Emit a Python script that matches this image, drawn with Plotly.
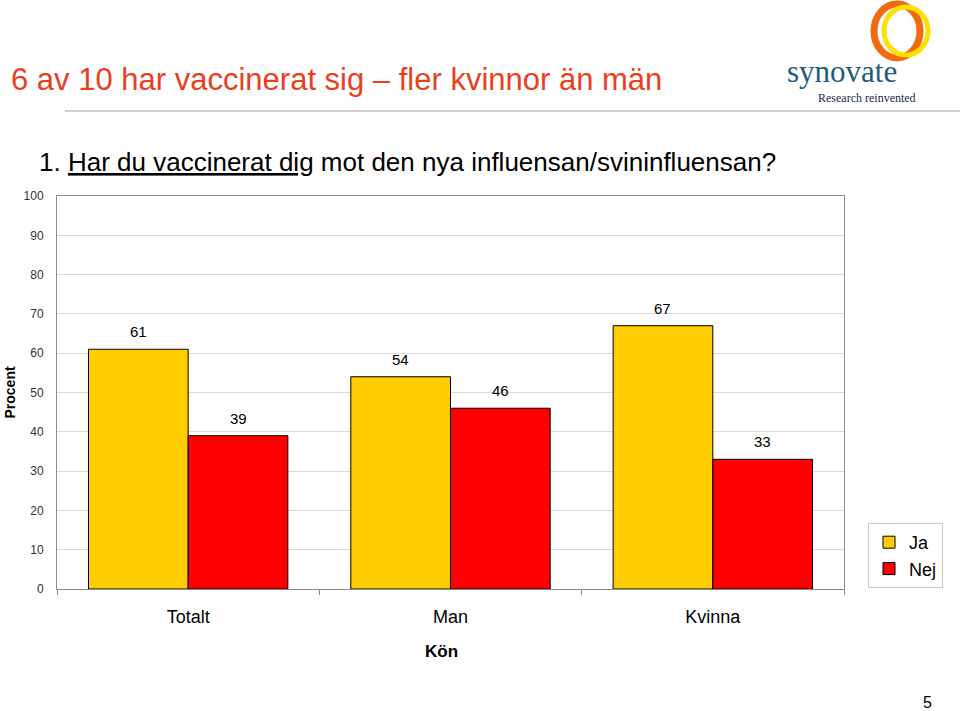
import plotly.graph_objects as go

# Data
categories = ["Totalt", "Man", "Kvinna"]
ja = [61, 54, 67]
nej = [39, 46, 33]
y_ticks = [0, 10, 20, 30, 40, 50, 60, 70, 80, 90, 100]

W, H = 960, 711
L, R, T, B = 57, 844, 196, 589  # plot area in pixels


def px(x):
    return (x - L) / (R - L)


def py(y):
    return (B - y) / (B - T)


fig = go.Figure()
fig.add_trace(go.Bar(x=categories, y=ja, name="Ja",
                     marker=dict(color="#FFCC00", line=dict(color="#000000", width=1))))
fig.add_trace(go.Bar(x=categories, y=nej, name="Nej",
                     marker=dict(color="#FF0000", line=dict(color="#000000", width=1))))

# value labels above bars
annotations = []
for i, c in enumerate(categories):
    for vals, shift in ((ja, -50), (nej, 50)):
        annotations.append(dict(x=c, y=vals[i], text=str(vals[i]), showarrow=False,
                                xshift=shift, yshift=7, yanchor="bottom",
                                font=dict(size=15, color="#000000")))

# titles and other page text
annotations += [
    dict(x=px(9), y=py(79), xref="paper", yref="paper", xanchor="left", yanchor="middle",
         text="6 av 10 har vaccinerat sig – fler kvinnor än män", showarrow=False,
         font=dict(size=31, color="#E8401C")),
    dict(x=px(37), y=py(162), xref="paper", yref="paper", xanchor="left", yanchor="middle",
         text="1. <u>Har du vaccinerat dig</u> mot den nya influensan/svininfluensan?",
         showarrow=False, font=dict(size=26, color="#000000")),
    dict(x=px(9), y=0.5, xref="paper", yref="paper", xanchor="center", yanchor="middle",
         text="<b>Procent</b>", textangle=-90, showarrow=False,
         font=dict(size=14, color="#000000")),
    dict(x=px(441), y=py(651), xref="paper", yref="paper", xanchor="center", yanchor="middle",
         text="<b>Kön</b>", showarrow=False, font=dict(size=17, color="#000000")),
    dict(x=px(928), y=py(702), xref="paper", yref="paper", xanchor="center", yanchor="middle",
         text="5", showarrow=False, font=dict(size=16, color="#000000")),
    dict(x=px(842), y=py(71), xref="paper", yref="paper", xanchor="center", yanchor="middle",
         text="synovate", showarrow=False,
         font=dict(size=31, color="#1F5C7A", family="Liberation Serif")),
    dict(x=px(867), y=py(98), xref="paper", yref="paper", xanchor="center", yanchor="middle",
         text="Research reinvented", showarrow=False,
         font=dict(size=12, color="#1A2A4A", family="Liberation Serif")),
]

shapes = [
    dict(type="line", xref="paper", yref="paper", x0=px(65), x1=px(960), y0=py(111), y1=py(111),
         line=dict(color="#D0D0D0", width=2)),
    # logo rings
    dict(type="circle", xref="paper", yref="paper", x0=px(874), x1=px(920), y0=py(58), y1=py(4),
         line=dict(color="#F26A10", width=7)),
    dict(type="circle", xref="paper", yref="paper", x0=px(884), x1=px(928), y0=py(55), y1=py(7),
         line=dict(color="#FFE000", width=5)),
]

fig.update_layout(
    width=W, height=H,
    margin=dict(l=L, r=W - R, t=T, b=H - B),
    paper_bgcolor="white", plot_bgcolor="white",
    font=dict(family="Liberation Sans, Arial", color="#000000"),
    barmode="group", bargap=0.24, bargroupgap=0,
    showlegend=True,
    legend=dict(x=px(868), y=py(523), xanchor="left", yanchor="top",
                bordercolor="#C8C8C8", borderwidth=1, font=dict(size=18),
                itemwidth=30, tracegroupgap=10),
    annotations=annotations,
    shapes=shapes,
)
fig.update_xaxes(showline=True, linecolor="#8C8C8C", mirror=True, ticks="outside",
                 tickson="boundaries", ticklen=5, tickcolor="#8C8C8C",
                 ticklabelstandoff=11, tickfont=dict(size=18), showgrid=False)
fig.update_yaxes(range=[0, 100], tickvals=y_ticks, showline=True, linecolor="#8C8C8C",
                 mirror=True, showgrid=True, gridcolor="#D9D9D9", ticks="",
                 ticklabelstandoff=10, tickfont=dict(size=12, color="#333333"),
                 zeroline=False)

# drop the page's default body margin so the figure sits at the window corner
fig.write_html("out.html", config={"displayModeBar": False},
               post_script="document.body.style.margin='0';")
